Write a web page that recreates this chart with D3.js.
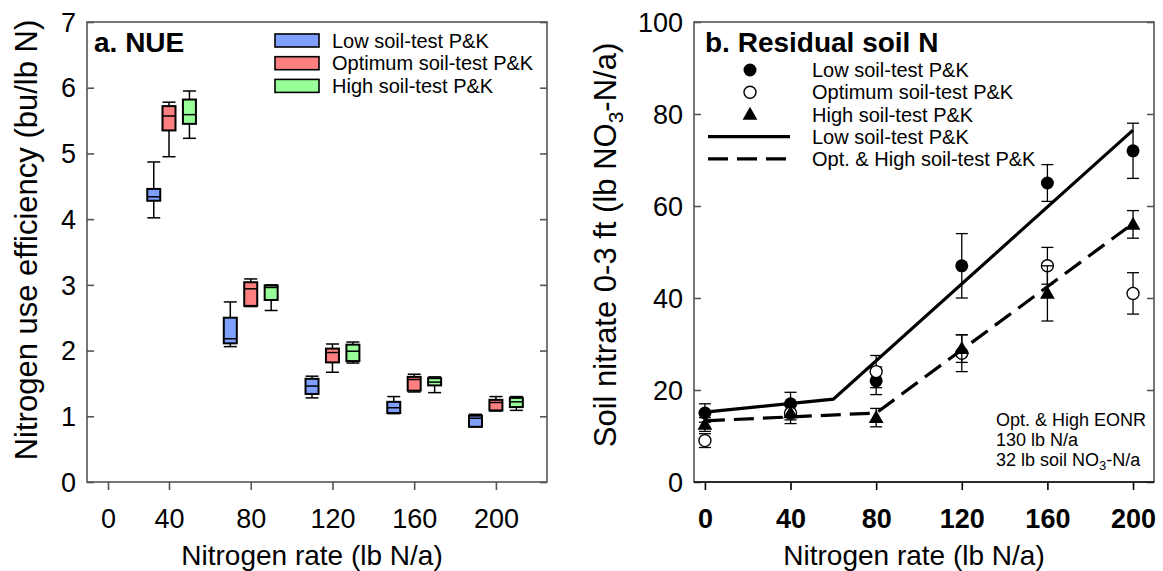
<!DOCTYPE html>
<html>
<head>
<meta charset="utf-8">
<script src="https://cdn.jsdelivr.net/npm/d3@7"></script>
<style>
  html, body { margin: 0; padding: 0; background: #fff; }
  svg { display: block; font-family: "Liberation Sans", Arial, sans-serif; }
</style>
</head>
<body>
<svg id="chart" width="1163" height="571"></svg>
<script>
// ---------------- Data ----------------
// Panel a: NUE box plots  [whiskerLow, Q1, median, Q3, whiskerHigh]
const nueRates = [40, 80, 120, 160, 200];
const nueLow = [
  [4.02, 4.28, 4.34, 4.46, 4.87],
  [2.06, 2.11, 2.18, 2.50, 2.74],
  [1.28, 1.34, 1.46, 1.57, 1.61],
  [1.04, 1.05, 1.13, 1.22, 1.30],
  [0.84, 0.84, 0.97, 1.01, 1.03]
];
const nueOpt = [
  [4.95, 5.35, 5.57, 5.72, 5.78],
  [2.67, 2.68, 2.94, 3.04, 3.09],
  [1.67, 1.82, 1.97, 2.03, 2.10],
  [1.37, 1.39, 1.56, 1.60, 1.64],
  [1.08, 1.09, 1.21, 1.25, 1.30]
];
const nueHigh = [
  [5.23, 5.45, 5.59, 5.82, 5.95],
  [2.61, 2.77, 2.96, 2.99, 3.00],
  [1.81, 1.84, 1.99, 2.09, 2.13],
  [1.36, 1.47, 1.52, 1.58, 1.60],
  [1.09, 1.14, 1.22, 1.28, 1.30]
];
const nueOffsets = [-10, 0, 10];           // lb N/a offset of each series within a group
const seriesNames = ["Low soil-test P&K", "Optimum soil-test P&K", "High soil-test P&K"];
const seriesColors = ["#80a0ff", "#ff8080", "#99ff99"];
const nueXTicks = [0, 40, 80, 120, 160, 200];
const nueYTicks = [0, 1, 2, 3, 4, 5, 6, 7];

// Panel b: residual soil N (mean, +/- error)
const soilRates = [0, 40, 80, 120, 160, 200];
const soilLow  = [15, 17, 22, 47, 65, 72];
const soilLowErr  = [2, 2.5, 3, 7, 4, 6];
const soilOpt  = [9, 15, 24, 28, 47, 41];
const soilOptErr  = [1.5, 2.3, 3.5, 4, 4, 4.5];
const soilHigh = [12.5, 15, 14, 29, 41, 56];
const soilHighErr = [1.5, 1.5, 2, 3, 6, 3];
// fitted lines
const fitLowX = [0, 60, 200];
const fitLowY = [15.2, 18, 76.5];
const fitOHX  = [0, 80, 200];
const fitOHY  = [13.3, 15, 56.2];
const soilXTicks = [0, 40, 80, 120, 160, 200];
const soilYTicks = [0, 20, 40, 60, 80, 100];

// ---------------- Layout ----------------
const svg = d3.select("#chart");
const A = { left: 87, right: 547, top: 22, bottom: 482 };
const B = { left: 694, right: 1154, top: 22, bottom: 482 };
const FRAME = "#555";
const TICK_FS = 27, AXIS_FS = 28, YLAB_FS = 31, TITLE_FS = 28;

const xA = d3.scaleLinear().domain([-14, 0, 40, 225]).range([A.left, 108, 169, A.right]);
const yA = d3.scaleLinear().domain([0, 7]).range([A.bottom, A.top]);
const xB = d3.scaleLinear().domain([-5.1, 209.8]).range([B.left, B.right]);
const yB = d3.scaleLinear().domain([0, 100]).range([B.bottom, B.top]);

// ---------------- Panel a ----------------
const gA = svg.append("g");

const yAxL = gA.append("g").attr("transform", `translate(${A.left},0)`)
  .call(d3.axisRight(yA).tickValues(nueYTicks).tickSize(7).tickFormat(""));
const yAxR = gA.append("g").attr("transform", `translate(${A.right},0)`)
  .call(d3.axisLeft(yA).tickValues(nueYTicks).tickSize(7).tickFormat(""));
const xAx = gA.append("g").attr("transform", `translate(0,${A.bottom})`)
  .call(d3.axisBottom(xA).tickValues(nueXTicks).tickSize(8).tickPadding(19).tickFormat(d3.format("d")));
[yAxL, yAxR, xAx].forEach(g => {
  g.select(".domain").remove();
  g.selectAll(".tick line").attr("stroke", FRAME).attr("stroke-width", 1.6);
});
xAx.selectAll(".tick text").attr("font-size", TICK_FS).attr("fill", "#000")
  .attr("font-family", "Liberation Sans, Arial, sans-serif");
gA.append("g").selectAll("text").data(nueYTicks).join("text")
  .attr("x", A.left - 11).attr("y", d => yA(d)).attr("dy", "0.36em")
  .attr("text-anchor", "end").attr("font-size", TICK_FS).text(d => d);

// boxes
const boxW = 13;
const nueSeries = [nueLow, nueOpt, nueHigh];
nueSeries.forEach((ser, si) => {
  const g = gA.append("g");
  ser.forEach((s, i) => {
    const cx = xA(nueRates[i] + nueOffsets[si]);
    const [wl, q1, md, q3, wh] = s;
    g.append("line").attr("x1", cx).attr("x2", cx).attr("y1", yA(wh)).attr("y2", yA(q3))
      .attr("stroke", "#000").attr("stroke-width", 1.5);
    g.append("line").attr("x1", cx).attr("x2", cx).attr("y1", yA(q1)).attr("y2", yA(wl))
      .attr("stroke", "#000").attr("stroke-width", 1.5);
    [wh, wl].forEach(v => g.append("line")
      .attr("x1", cx - boxW / 2).attr("x2", cx + boxW / 2)
      .attr("y1", yA(v)).attr("y2", yA(v)).attr("stroke", "#000").attr("stroke-width", 1.5));
    g.append("rect").attr("x", cx - boxW / 2).attr("width", boxW)
      .attr("y", yA(q3)).attr("height", Math.max(0.5, yA(q1) - yA(q3)))
      .attr("fill", seriesColors[si]).attr("stroke", "#000").attr("stroke-width", 2);
    g.append("line").attr("x1", cx - boxW / 2).attr("x2", cx + boxW / 2)
      .attr("y1", yA(md)).attr("y2", yA(md)).attr("stroke", "#000").attr("stroke-width", 1.5);
  });
});

gA.append("rect").attr("x", A.left).attr("y", A.top)
  .attr("width", A.right - A.left).attr("height", A.bottom - A.top)
  .attr("fill", "none").attr("stroke", FRAME).attr("stroke-width", 1.6);

gA.append("text").attr("x", 94).attr("y", 52).attr("font-size", TITLE_FS).attr("font-weight", "bold").text("a. NUE");
seriesNames.forEach((n, i) => {
  const y = 34 + i * 22.7;
  gA.append("rect").attr("x", 275).attr("y", y).attr("width", 44).attr("height", 13)
    .attr("fill", seriesColors[i]).attr("stroke", "#000").attr("stroke-width", 1.6);
  gA.append("text").attr("x", 332).attr("y", y + 6.5).attr("dy", "0.36em")
    .attr("font-size", 20).text(n);
});

gA.append("text").attr("x", 312).attr("y", 565)
  .attr("text-anchor", "middle").attr("font-size", AXIS_FS).text("Nitrogen rate (lb N/a)");
gA.append("text").attr("transform", `translate(37,240) rotate(-90)`)
  .attr("text-anchor", "middle").attr("font-size", YLAB_FS).text("Nitrogen use efficiency (bu/lb N)");

// ---------------- Panel b ----------------
const gB = svg.append("g");
const yBL = gB.append("g").attr("transform", `translate(${B.left},0)`)
  .call(d3.axisRight(yB).tickValues(soilYTicks).tickSize(7).tickFormat(""));
const yBR = gB.append("g").attr("transform", `translate(${B.right},0)`)
  .call(d3.axisLeft(yB).tickValues(soilYTicks).tickSize(7).tickFormat(""));
const xBx = gB.append("g").attr("transform", `translate(0,${B.bottom})`)
  .call(d3.axisBottom(xB).tickValues(soilXTicks).tickSize(8).tickPadding(19).tickFormat(d3.format("d")));
[yBL, yBR, xBx].forEach(g => {
  g.select(".domain").remove();
  g.selectAll(".tick line").attr("stroke", FRAME).attr("stroke-width", 1.6);
});
xBx.selectAll(".tick line").attr("stroke", "#000");
xBx.selectAll(".tick text").attr("font-size", TICK_FS).attr("font-weight", "bold").attr("fill", "#000")
  .attr("font-family", "Liberation Sans, Arial, sans-serif");
gB.append("g").selectAll("text").data(soilYTicks).join("text")
  .attr("x", B.left - 11).attr("y", d => yB(d)).attr("dy", "0.36em")
  .attr("text-anchor", "end").attr("font-size", TICK_FS).text(d => d);

const capW = 12;
const pts = [
  { m: soilLow, e: soilLowErr, type: "filled" },
  { m: soilOpt, e: soilOptErr, type: "open" },
  { m: soilHigh, e: soilHighErr, type: "tri" }
];
const tri = d3.symbol().type(d3.symbolTriangle).size(95);
pts.forEach(p => {
  const g = gB.append("g");
  soilRates.forEach((r, i) => {
    const cx = xB(r), v = p.m[i], e = p.e[i];
    g.append("line").attr("x1", cx).attr("x2", cx).attr("y1", yB(v + e)).attr("y2", yB(v - e))
      .attr("stroke", "#000").attr("stroke-width", 1.3);
    [v + e, v - e].forEach(w => g.append("line").attr("x1", cx - capW / 2).attr("x2", cx + capW / 2)
      .attr("y1", yB(w)).attr("y2", yB(w)).attr("stroke", "#000").attr("stroke-width", 1.3));
    if (p.type === "filled") {
      g.append("circle").attr("cx", cx).attr("cy", yB(v)).attr("r", 6.5).attr("fill", "#000");
    } else if (p.type === "open") {
      g.append("circle").attr("cx", cx).attr("cy", yB(v)).attr("r", 6).attr("fill", "#fff")
        .attr("stroke", "#000").attr("stroke-width", 1.4);
    } else {
      g.append("path").attr("d", tri).attr("transform", `translate(${cx},${yB(v) + 1})`).attr("fill", "#000");
    }
  });
});

const lineGen = d3.line().x(d => xB(d[0])).y(d => yB(d[1]));
gB.append("path").attr("d", lineGen(d3.zip(fitLowX, fitLowY)))
  .attr("fill", "none").attr("stroke", "#000").attr("stroke-width", 3.2);
gB.append("path").attr("d", lineGen(d3.zip(fitOHX, fitOHY)))
  .attr("fill", "none").attr("stroke", "#000").attr("stroke-width", 3.2).attr("stroke-dasharray", "20,9");

gB.append("rect").attr("x", B.left).attr("y", B.top)
  .attr("width", B.right - B.left).attr("height", B.bottom - B.top)
  .attr("fill", "none").attr("stroke", FRAME).attr("stroke-width", 1.6);
gB.append("line").attr("x1", B.left).attr("x2", B.right).attr("y1", B.bottom).attr("y2", B.bottom)
  .attr("stroke", "#111").attr("stroke-width", 1.6);

gB.append("text").attr("x", 705).attr("y", 52).attr("font-size", TITLE_FS).attr("font-weight", "bold").text("b. Residual soil N");

const legRows = [
  { kind: "filled", label: "Low soil-test P&K" },
  { kind: "open", label: "Optimum soil-test P&K" },
  { kind: "tri", label: "High soil-test P&K" },
  { kind: "solid", label: "Low soil-test P&K" },
  { kind: "dash", label: "Opt. & High soil-test P&K" }
];
legRows.forEach((r, i) => {
  const y = 70 + i * 22.2;
  const g = gB.append("g");
  if (r.kind === "filled") g.append("circle").attr("cx", 750).attr("cy", y).attr("r", 6.5).attr("fill", "#000");
  if (r.kind === "open") g.append("circle").attr("cx", 750).attr("cy", y).attr("r", 6).attr("fill", "#fff").attr("stroke", "#000").attr("stroke-width", 1.4);
  if (r.kind === "tri") g.append("path").attr("d", tri).attr("transform", `translate(750,${y + 1})`).attr("fill", "#000");
  if (r.kind === "solid") g.append("line").attr("x1", 708).attr("x2", 790).attr("y1", y).attr("y2", y).attr("stroke", "#000").attr("stroke-width", 3.2);
  if (r.kind === "dash") g.append("line").attr("x1", 708).attr("x2", 790).attr("y1", y).attr("y2", y).attr("stroke", "#000").attr("stroke-width", 3.2).attr("stroke-dasharray", "20,9");
  g.append("text").attr("x", 812).attr("y", y).attr("dy", "0.36em").attr("font-size", 20).text(r.label);
});

const ann = gB.append("text").attr("font-size", 18);
ann.append("tspan").attr("x", 996).attr("y", 426).text("Opt. & High EONR");
ann.append("tspan").attr("x", 996).attr("y", 446).text("130 lb N/a");
const t3 = ann.append("tspan").attr("x", 996).attr("y", 466);
t3.append("tspan").text("32 lb soil NO");
t3.append("tspan").attr("font-size", 13).attr("dy", 4).text("3");
t3.append("tspan").attr("dy", -4).text("-N/a");

gB.append("text").attr("x", 914).attr("y", 565)
  .attr("text-anchor", "middle").attr("font-size", AXIS_FS).text("Nitrogen rate (lb N/a)");
const yl = gB.append("text").attr("transform", `translate(616,245) rotate(-90)`)
  .attr("text-anchor", "middle").attr("font-size", YLAB_FS);
yl.append("tspan").text("Soil nitrate 0-3 ft (lb NO");
yl.append("tspan").attr("font-size", 21).attr("dy", 7).text("3");
yl.append("tspan").attr("dy", -7).text("-N/a)");
</script>
</body>
</html>
